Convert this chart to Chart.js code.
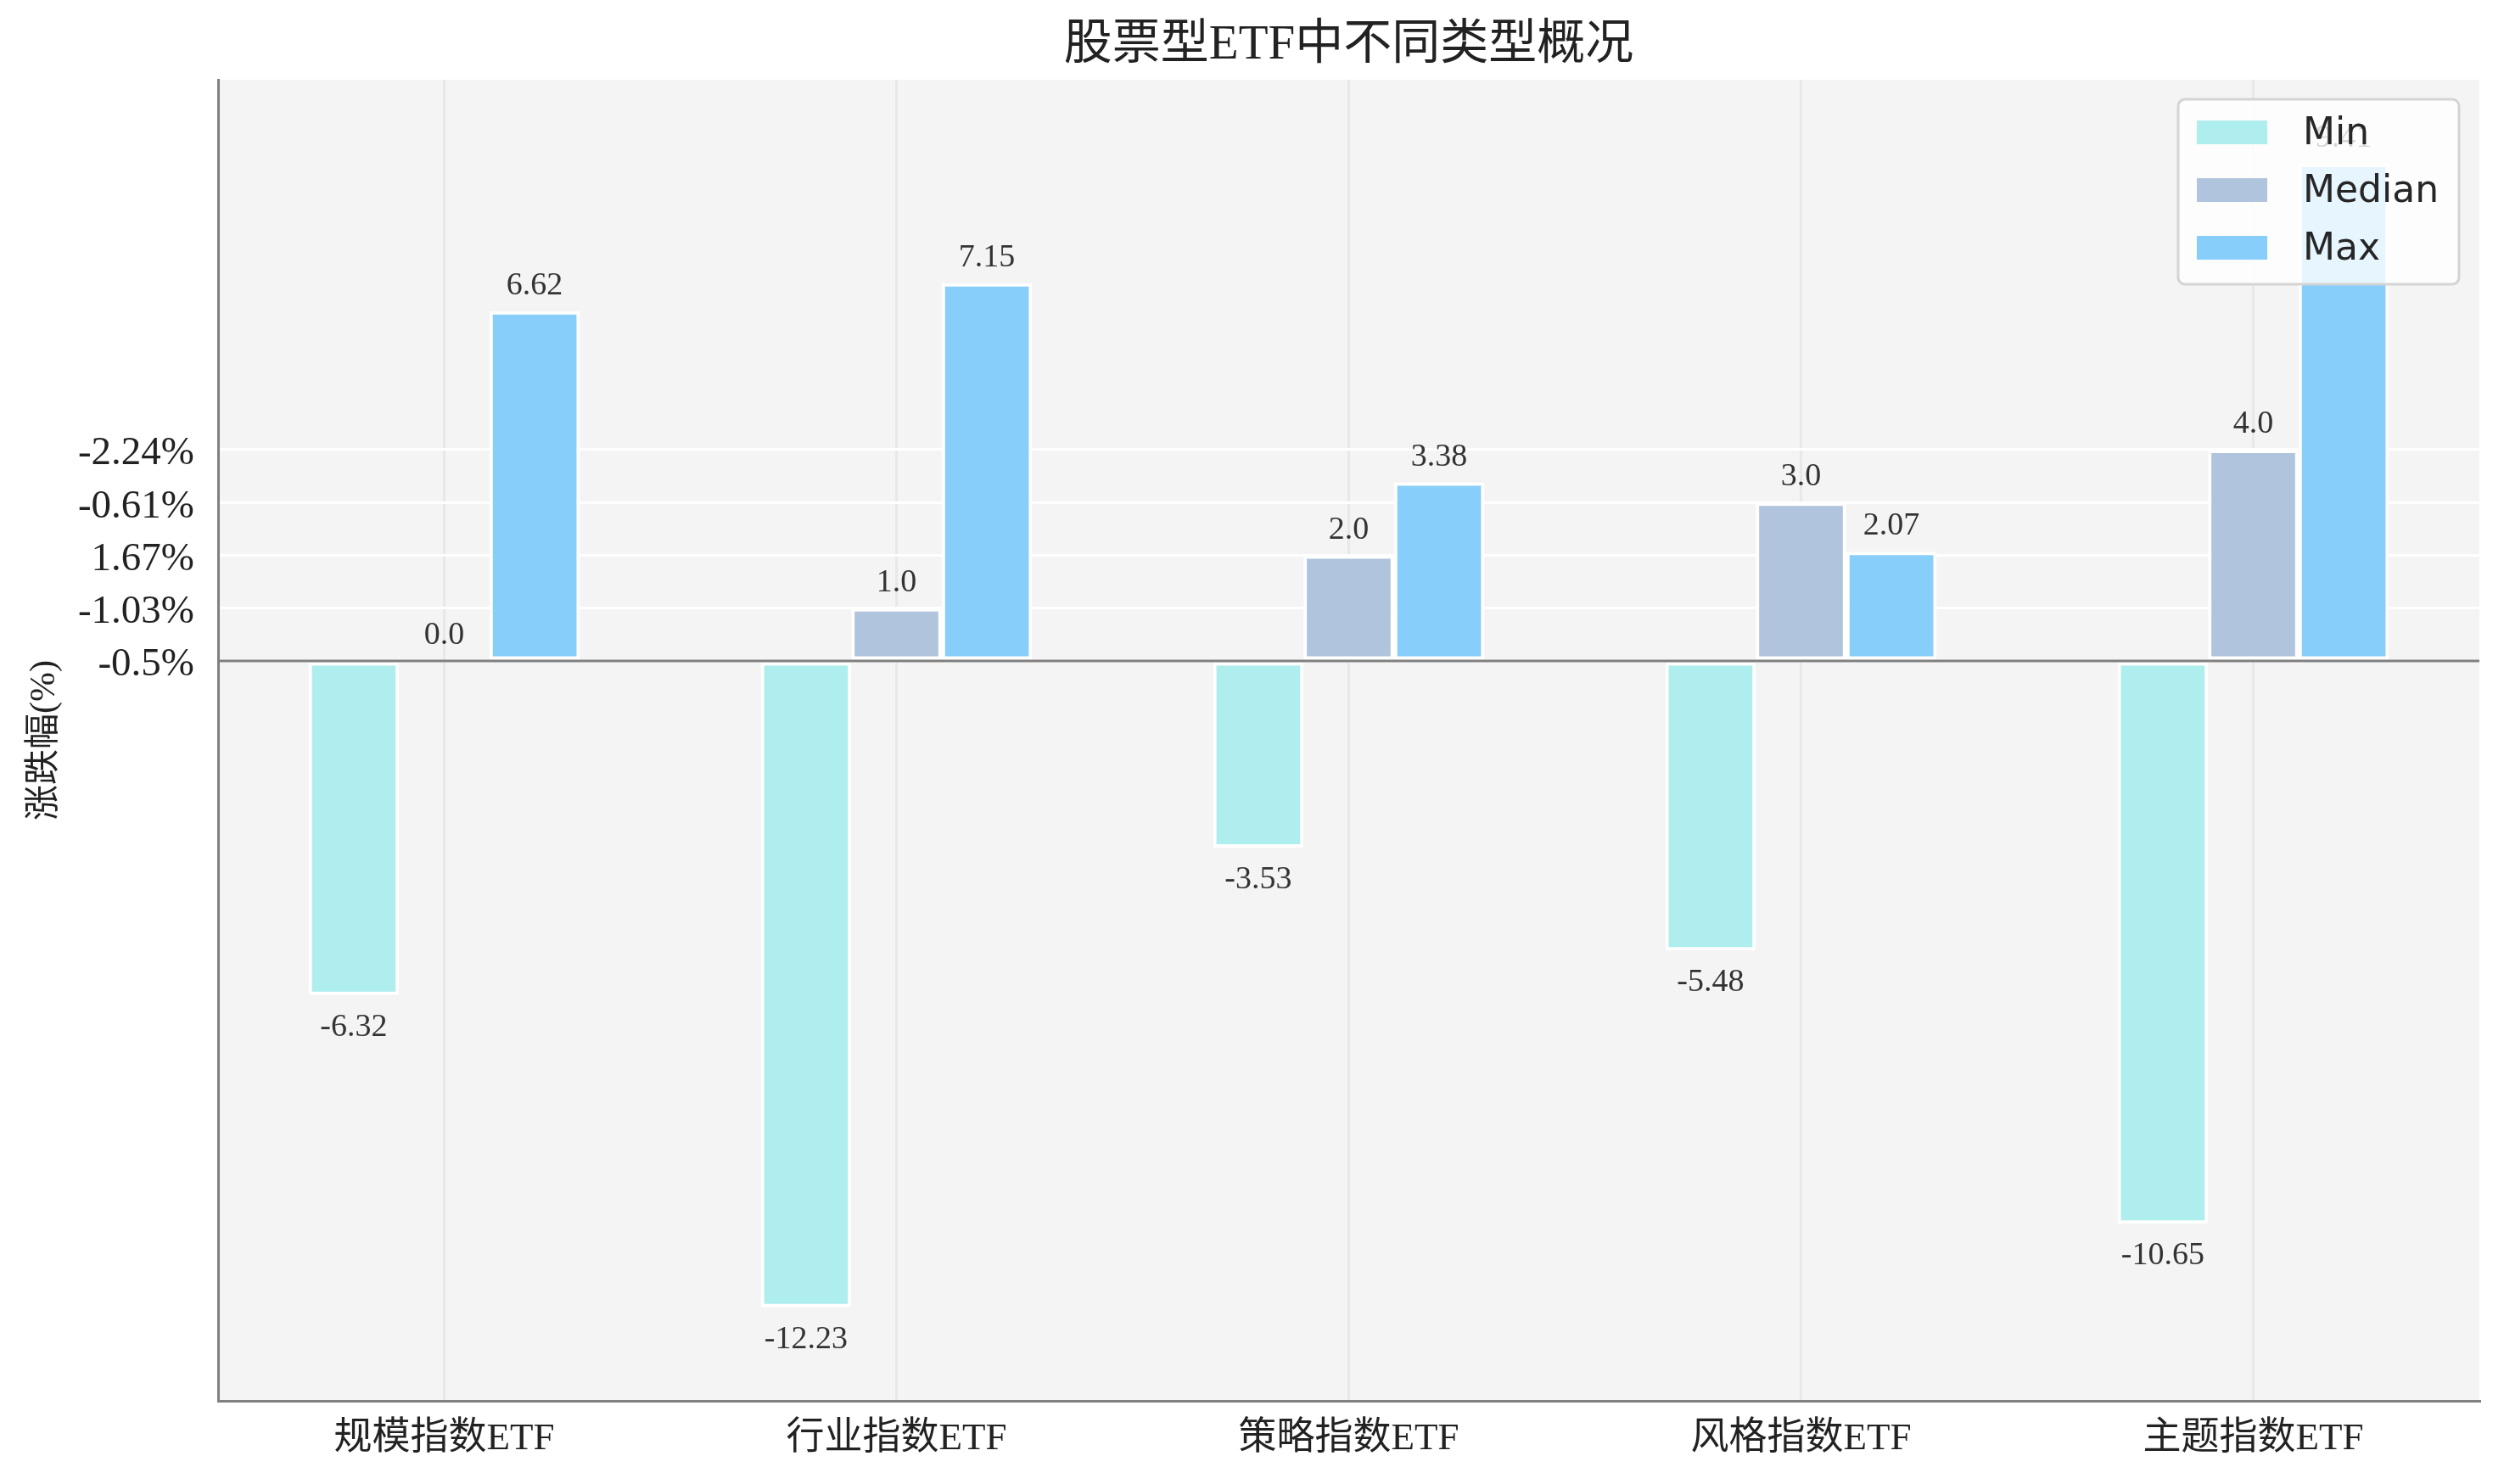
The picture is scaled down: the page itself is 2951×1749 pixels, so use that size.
<!DOCTYPE html>
<html lang="zh">
<head>
  <meta charset="UTF-8" />
  <title>股票型ETF中不同类型概况</title>
  <script src="https://cdn.jsdelivr.net/npm/chart.js"></script>
  <style>
    body { margin: 0; background: #ffffff; }
    canvas { display: block; }
  </style>
</head>
<body>
  <canvas id="etfChart" width="2951" height="1749"></canvas>

  <script>
    // 数据
    const categories = ['规模指数ETF', '行业指数ETF', '策略指数ETF', '风格指数ETF', '主题指数ETF'];
    const minValues = [-6.32, -12.23, -3.53, -5.48, -10.65];
    const medianValues = [0.0, 1.0, 2.0, 3.0, 4.0];
    const maxValues = [6.62, 7.15, 3.38, 2.07, 9.41];
    const yTickValues = [0, 1, 2, 3, 4];
    const yTickLabels = ['-0.5%', '-1.03%', '1.67%', '-0.61%', '-2.24%'];
    const seriesNames = ['Min', 'Median', 'Max'];
    const seriesColors = ['#afeeee', '#b0c4de', '#87cefa'];

    const serif = "'Liberation Serif', 'Noto Sans CJK SC', serif";

    // 背景 + 标题
    const backdrop = {
      id: 'backdrop',
      beforeDraw(chart) {
        const { ctx, chartArea: a } = chart;
        ctx.save();
        ctx.fillStyle = '#ffffff';
        ctx.fillRect(0, 0, chart.width, chart.height);
        ctx.fillStyle = '#f4f4f4';
        ctx.fillRect(a.left, a.top, a.right - a.left, a.bottom - a.top);
        ctx.fillStyle = '#222222';
        ctx.font = '57px ' + serif;
        ctx.textAlign = 'center';
        ctx.textBaseline = 'middle';
        ctx.fillText('股票型ETF中不同类型概况', (a.left + a.right) / 2, 54);
        ctx.restore();
      }
    };

    // 0 线、数值标签、图例
    const overlay = {
      id: 'overlay',
      afterDatasetsDraw(chart) {
        const { ctx, chartArea: a } = chart;
        const y0 = chart.scales.y.getPixelForValue(0);
        ctx.save();
        ctx.strokeStyle = '#808080';
        ctx.lineWidth = 3;
        ctx.beginPath();
        ctx.moveTo(a.left, y0);
        ctx.lineTo(a.right, y0);
        ctx.stroke();

        ctx.font = '38px ' + serif;
        ctx.fillStyle = '#333333';
        ctx.textAlign = 'center';
        chart.data.datasets.forEach((ds, i) => {
          chart.getDatasetMeta(i).data.forEach((bar, j) => {
            const v = ds.data[j];
            if (v >= 0) {
              ctx.textBaseline = 'alphabetic';
              ctx.fillText(v.toFixed(v % 1 === 0 ? 1 : 2), bar.x, bar.y - 20);
            } else {
              ctx.textBaseline = 'top';
              ctx.fillText(String(v), bar.x, bar.y + 19);
            }
          });
        });

        // 图例
        const w = 331, h = 218;
        const lx = a.right - 24 - w, ly = a.top + 23;
        ctx.fillStyle = 'rgba(255,255,255,0.8)';
        ctx.strokeStyle = '#d4d4d4';
        ctx.lineWidth = 3;
        ctx.beginPath();
        ctx.roundRect(lx, ly, w, h, 8);
        ctx.fill();
        ctx.stroke();
        ctx.font = '44px "DejaVu Sans", sans-serif';
        ctx.textAlign = 'left';
        ctx.textBaseline = 'middle';
        seriesNames.forEach((name, i) => {
          const cy = ly + 39 + i * 68;
          ctx.fillStyle = seriesColors[i];
          ctx.fillRect(lx + 22, cy - 14, 83, 28);
          ctx.fillStyle = '#262626';
          ctx.fillText(name, lx + 147, cy + 3);
        });
        ctx.restore();
      }
    };

    const valueSets = [minValues, medianValues, maxValues];

    new Chart(document.getElementById('etfChart'), {
      type: 'bar',
      data: {
        labels: categories,
        datasets: seriesNames.map((name, i) => ({
          label: name,
          data: valueSets[i],
          backgroundColor: seriesColors[i],
          borderColor: '#ffffff',
          borderWidth: 4,
          borderSkipped: false,
          categoryPercentage: 0.6,
          barPercentage: 1.0
        }))
      },
      options: {
        responsive: false,
        animation: false,
        layout: { padding: { top: 94, right: 29, left: 0, bottom: 0 } },
        plugins: {
          legend: { display: false },
          tooltip: { enabled: false }
        },
        scales: {
          x: {
            offset: true,
            grid: { offset: false, color: '#e8e8e8', lineWidth: 3, drawTicks: false },
            border: { color: '#808080', width: 3 },
            ticks: { color: '#222222', font: { family: serif, size: 45 }, padding: 18 },
            afterFit(scale) { scale.height = 98; }
          },
          y: {
            min: -14,
            max: 11,
            afterBuildTicks(scale) {
              scale.ticks = yTickValues.map(v => ({ value: v }));
            },
            grid: { color: '#ffffff', lineWidth: 3, drawTicks: false },
            border: { color: '#808080', width: 3 },
            ticks: {
              color: '#222222',
              font: { family: serif, size: 47 },
              padding: 28,
              labelOffset: 5,
              callback: (value) => yTickLabels[yTickValues.indexOf(value)]
            },
            title: {
              display: true,
              text: '涨跌幅(%)',
              color: '#222222',
              font: { family: serif, size: 42 },
              padding: { top: 28, bottom: 0 }
            },
            afterFit(scale) { scale.width = 257; }
          }
        }
      },
      plugins: [backdrop, overlay]
    });
  </script>
</body>
</html>
